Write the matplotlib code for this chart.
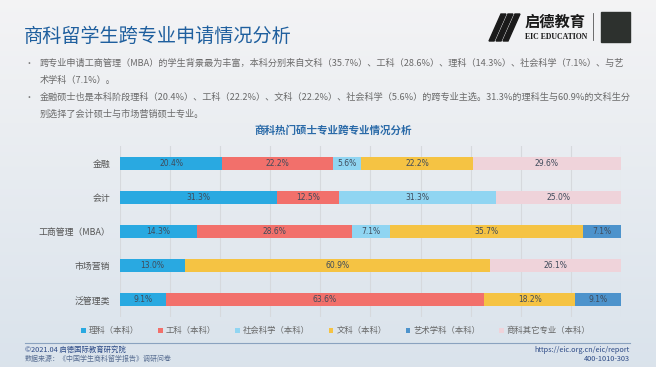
import numpy as np
import matplotlib
matplotlib.use("Agg")
import matplotlib.pyplot as plt
from matplotlib.patches import Polygon, Rectangle

plt.rcParams['font.family'] = ['Noto Sans CJK SC', 'DejaVu Sans']

# ---------------- data ----------------
categories = ['金融', '会计', '工商管理（MBA）', '市场营销', '泛管理类']
series_names = ['理科（本科）', '工科（本科）', '社会科学（本科）', '文科（本科）',
                '艺术学科（本科）', '商科其它专业（本科）']
li_ke = [20.4, 31.3, 14.3, 13.0, 9.1]
gong_ke = [22.2, 12.5, 28.6, 0.0, 63.6]
she_hui = [5.6, 31.3, 7.1, 0.0, 0.0]
wen_ke = [22.2, 0.0, 35.7, 60.9, 18.2]
yi_shu = [0.0, 0.0, 7.1, 0.0, 9.1]
shang_ke = [29.6, 25.0, 0.0, 26.1, 0.0]
series_values = [li_ke, gong_ke, she_hui, wen_ke, yi_shu, shang_ke]
colors = ['#29a9e1', '#f2706b', '#90d5f2', '#f5c343', '#4d93cc', '#efd3da']

W, H = 656, 367
fig = plt.figure(figsize=(W / 100, H / 100), dpi=100)

def fx(px):
    return px / W

def fy(py):
    return 1 - py / H

# ---------------- background ----------------
bg = fig.add_axes([0, 0, 1, 1], zorder=-10)
grad = np.linspace(0, 1, 256)[:, None]
top = np.array([0.955, 0.955, 0.960])
bot = np.array([0.855, 0.890, 0.925])
img = top[None, None, :] * (1 - grad[:, :, None]) + bot[None, None, :] * grad[:, :, None]
img = np.repeat(img, 4, axis=1)
bg.imshow(img, aspect='auto', extent=[0, 1, 0, 1])
bg.set_xlim(0, 1)
bg.set_ylim(0, 1)
bg.axis('off')

# ---------------- header ----------------
fig.text(fx(24), fy(36), '商科留学生跨专业申请情况分析', fontsize=13.8,
         color='#1f5f9e', va='center', ha='left')

bullet_lines = [
    ('•', '跨专业申请工商管理（MBA）的学生背景最为丰富，本科分别来自文科（35.7%）、工科（28.6%）、理科（14.3%）、社会科学（7.1%）、与艺'),
    ('', '术学科（7.1%）。'),
    ('•', '金融硕士也是本科阶段理科（20.4%）、工科（22.2%）、文科（22.2%）、社会科学（5.6%）的跨专业主选。31.3%的理科生与60.9%的文科生分'),
    ('', '别选择了会计硕士与市场营销硕士专业。'),
]
for (b, t), y in zip(bullet_lines, [63, 81, 97, 114]):
    if b:
        fig.text(fx(25), fy(y), b, fontsize=6.5, color='#777777', va='center', ha='left')
    fig.text(fx(40), fy(y), t, fontsize=6.6, color='#6a6a6a', va='center', ha='left')

# logo
icon_ax = fig.add_axes([0, 0, 1, 1], zorder=5)
icon_ax.set_xlim(0, W)
icon_ax.set_ylim(H, 0)
icon_ax.axis('off')
for dx in (0, 7, 14):
    icon_ax.add_patch(Polygon([(489 + dx, 41), (494 + dx, 41), (506 + dx, 14), (501 + dx, 14)],
                              closed=True, color='#1a1a1a'))
icon_ax.add_patch(Rectangle((601, 12), 29, 30, color='#2d312e'))
icon_ax.plot([593, 593], [13, 40], color='#555555', lw=0.6)
fig.text(fx(525), fy(22), '启德教育', fontsize=11, color='#1a1a1a', va='center', ha='left',
         fontweight='bold')
fig.text(fx(525), fy(37), 'EIC EDUCATION', fontsize=5.6, color='#1a1a1a', va='center',
         ha='left', family=['Liberation Serif'], fontweight='bold')
fig.text(fx(603), fy(15), 'Graduate\nManagement', fontsize=2.4, color='#dddddd',
         va='top', ha='left', linespacing=1.0)
fig.text(fx(603), fy(24), 'Admission\nCouncil', fontsize=2.4, color='#8dc63f',
         va='top', ha='left', linespacing=1.0)

# ---------------- chart ----------------
ax = fig.add_axes([fx(120), fy(317), fx(621) - fx(120), fy(146) - fy(317)])
ax.set_facecolor('none')
vals = np.array(series_values)
totals = vals.sum(axis=0)
y = np.arange(len(categories))
left = np.zeros(len(categories))
handles = []
for name, v, c in zip(series_names, vals, colors):
    frac = v / totals
    bars = ax.barh(y, frac, left=left, height=0.38, color=c, label=name, zorder=3)
    labels = [f'{x:.1f}%' if x > 0 else '' for x in v]
    ax.bar_label(bars, labels=labels, label_type='center', fontsize=5.5,
                 color='#3f4b5b', family=['DejaVu Sans'])
    handles.append(bars)
    left += frac

ax.set_xlim(0, 1)
ax.set_ylim(len(categories) - 0.5, -0.5)
ax.set_xticks(np.arange(0, 1.0001, 0.1))
ax.set_xticklabels([])
ax.set_yticks(y)
ax.set_yticklabels(categories, fontsize=6.4, color='#555555')
ax.tick_params(length=0, pad=7)
ax.grid(axis='x', color='#d6d9dd', lw=0.8, zorder=0)
for s in ax.spines.values():
    s.set_visible(False)

fig.text(fx(333), fy(131), '商科热门硕士专业跨专业情况分析', fontsize=7.6, color='#2a6aa8',
         fontweight='bold', va='center', ha='center')

fig.legend(handles=handles, labels=series_names, loc='center', ncol=6,
           bbox_to_anchor=(fx(336), fy(331)), frameon=False, fontsize=6.0,
           handlelength=0.55, handleheight=0.55, handletextpad=0.35,
           columnspacing=2.3, labelcolor='#666666')

# ---------------- footer ----------------
icon_ax.plot([25, 630], [343, 343], color='#8aa2bf', lw=0.8)
fig.text(fx(25), fy(350), '©2021.04 启德国际教育研究院', fontsize=5.3, color='#2c4a86',
         va='center', ha='left')
fig.text(fx(25), fy(359), '数据来源：《中国学生商科留学报告》调研问卷', fontsize=5.0,
         color='#5a6f93', va='center', ha='left')
fig.text(fx(630), fy(350), 'https://eic.org.cn/eic/report', fontsize=5.3, color='#2c4a86',
         va='center', ha='right')
fig.text(fx(630), fy(359), '400-1010-303', fontsize=5.3, color='#2c4a86',
         va='center', ha='right')

fig.savefig('out.png', dpi=100)
